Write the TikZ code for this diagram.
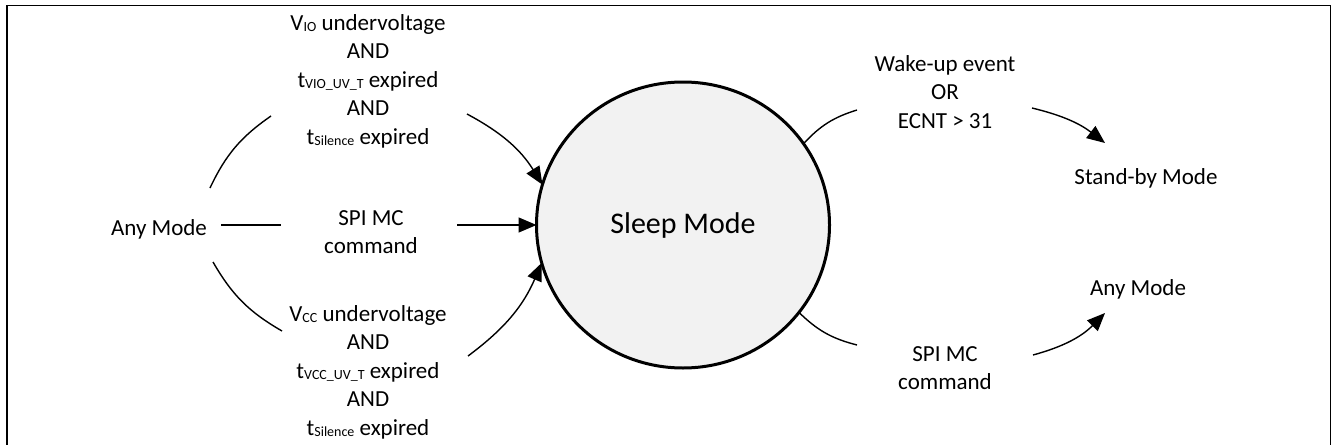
\documentclass[tikz,border=0pt]{standalone}
\usepackage{fontspec}
\setmainfont{Carlito}
\usetikzlibrary{shapes.geometric,arrows.meta}
\newcommand{\lowtxt}[1]{\raisebox{-1pt}{\fontsize{14}{14}\selectfont #1}}
\begin{document}
\begin{tikzpicture}[x=1pt,y=-1pt,
  lbl/.style={align=center,font=\fontsize{23}{28.5}\selectfont,inner sep=0pt},
  conn/.style={line width=1.4pt},
  arr/.style={line width=1.4pt,-{Triangle[length=18pt,width=15pt]}},
  statebox/.style={ellipse,draw,line width=3pt,fill=black!5,minimum width=293pt,minimum height=286pt,inner sep=0pt,outer sep=0pt,font=\fontsize{30}{36}\selectfont}]
\useasboundingbox (0,0) rectangle (1332,444);
% frame
\draw[line width=1.3pt] (7,447) -- (7,5.3) -- (1330.3,5.3) -- (1330.3,447);

% nodes
\node[statebox] (sleep) at (683,225) {Sleep Mode};
\node[lbl] (anyL) at (159,229) {Any Mode};
\node[lbl] (vio) at (368,81) {V\lowtxt{IO} undervoltage\\AND\\t\lowtxt{VIO\_UV\_T} expired\\AND\\t\lowtxt{Silence} expired};
\node[lbl] (spiL) at (371,232) {SPI MC\\command};
\node[lbl] (vcc) at (368,372) {V\lowtxt{CC} undervoltage\\AND\\t\lowtxt{VCC\_UV\_T} expired\\AND\\t\lowtxt{Silence} expired};
\node[lbl] (wake) at (945,92) {Wake-up event\\OR\\ECNT > 31};
\node[lbl] (standby) at (1146,178) {Stand-by Mode};
\node[lbl] (anyR) at (1138,289) {Any Mode};
\node[lbl] (spiR) at (945,368) {SPI MC\\command};

% coordinates of connector pieces
\coordinate (a1) at (210,188);
\coordinate (a2) at (271,116);
\coordinate (a3) at (467,114);
\coordinate (b1) at (221,225);
\coordinate (b2) at (281,225);
\coordinate (b3) at (457,225);
\coordinate (c1) at (213,262);
\coordinate (c2) at (282,331);
\coordinate (c3) at (468,356);
\coordinate (d2) at (857,110);
\coordinate (d3) at (1032,108);
\coordinate (d4) at (1105,143);
\coordinate (e2) at (857,345);
\coordinate (e3) at (1033,355);
\coordinate (e4) at (1105,313);

% left connectors
\draw[conn] (a1) to[bend left=15] (a2);
\draw[arr] (a3) to[bend left=15] (sleep.164);
\draw[conn] (b1) -- (b2);
\draw[arr] (b3) -- (sleep.180);
\draw[conn] (c1) to[bend right=15] (c2);
\draw[arr] (c3) to[bend right=15] (sleep.195);

% right connectors
\draw[conn] (sleep.34) to[bend left=15] (d2);
\draw[arr] (d3) to[bend left=12] (d4);
\draw[conn] (sleep.323) to[bend right=15] (e2);
\draw[arr] (e3) to[bend right=15] (e4);
\end{tikzpicture}
\end{document}
